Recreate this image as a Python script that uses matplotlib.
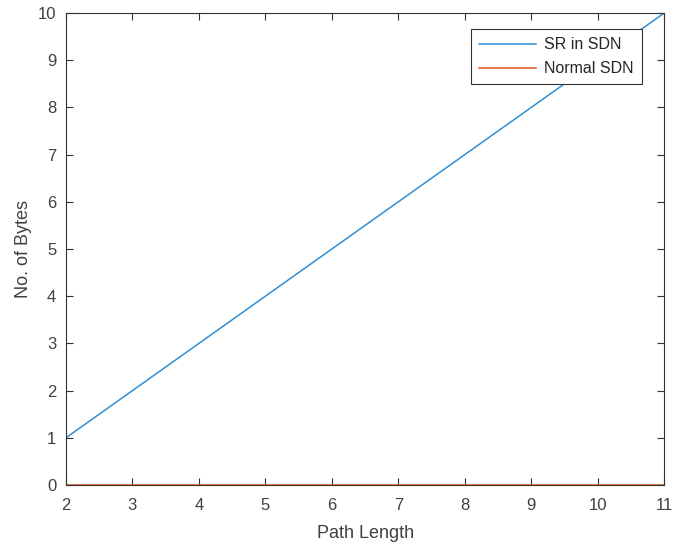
import matplotlib
matplotlib.use("Agg")
import matplotlib.pyplot as plt

path_length = [2, 3, 4, 5, 6, 7, 8, 9, 10, 11]
sr_in_sdn = [1, 2, 3, 4, 5, 6, 7, 8, 9, 10]
normal_sdn = [0, 0, 0, 0, 0, 0, 0, 0, 0, 0]

plt.rcParams['font.family'] = ['Liberation Sans', 'DejaVu Sans']

fig = plt.figure(figsize=(6.73, 5.47), dpi=100)
ax = fig.add_axes([0.098, 0.1133, 0.889, 0.863])

ax.plot(path_length, sr_in_sdn, color='#2F8FD6', lw=1.1, label='SR in SDN')
ax.plot(path_length, normal_sdn, color='#D95319', lw=1.1, label='Normal SDN')

ax.set_xlim(2, 11)
ax.set_ylim(0, 10)
ax.set_xticks(range(2, 12))
ax.set_yticks(range(0, 11))
ax.tick_params(direction='in', top=True, right=True, length=5, width=0.8,
               labelsize=12, colors='#333333', labelcolor='#404040')
ax.tick_params(axis='x', pad=9)
ax.tick_params(axis='y', pad=7)
for s in ax.spines.values():
    s.set_color('#333333')
    s.set_linewidth(0.8)

ax.set_xlabel('Path Length', fontsize=13, color='#404040', labelpad=9)
ax.set_ylabel('No. of Bytes', fontsize=13, color='#404040', labelpad=4)

leg = ax.legend(loc='upper right', bbox_to_anchor=(0.962, 0.965), fontsize=11.5,
                fancybox=False, framealpha=1, edgecolor='#333333',
                handlelength=3.6, borderpad=0.5, labelspacing=0.55,
                handletextpad=0.5, borderaxespad=0)
leg.get_frame().set_linewidth(0.8)
for t in leg.get_texts():
    t.set_color('#262626')

fig.savefig('out.png', dpi=100)
